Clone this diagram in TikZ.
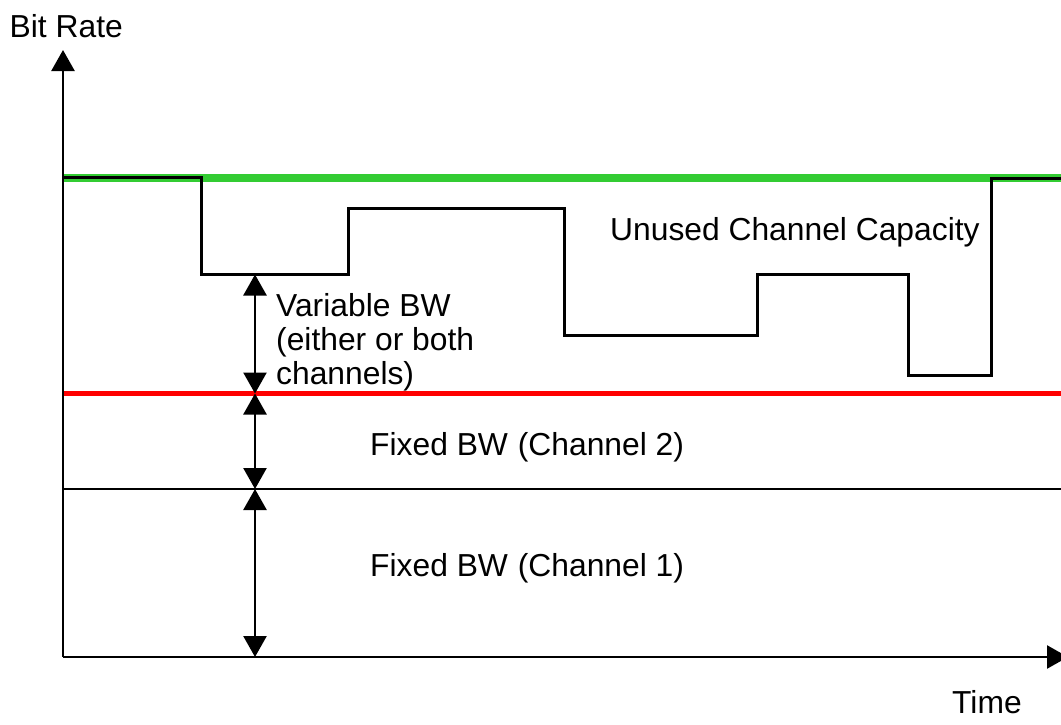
\documentclass[tikz,border=0pt]{standalone}
\usepackage{fontspec}
\setmainfont{Liberation Sans}
\usetikzlibrary{arrows.meta}
\begin{document}
\begin{tikzpicture}[x=1pt,y=-1pt,
  lbl/.style={anchor=base west, inner sep=0pt, font=\fontsize{31.8}{37}\selectfont},
  axisline/.style={line width=2.5pt, -{Triangle[width=23pt,length=21pt]}},
  dimarrow/.style={line width=2.5pt, {Triangle[width=23pt,length=21pt]}-{Triangle[width=23pt,length=21pt]}},
  capline/.style={line width=8pt, color=capgreen},
  fixline/.style={line width=5pt, color=red},
  plainline/.style={line width=2.5pt},
  rateline/.style={line width=3pt, line join=miter}]
\definecolor{capgreen}{RGB}{51,204,51}
\useasboundingbox (0,0) rectangle (1061,724);
% coordinates
\coordinate (O) at (63,657);
\coordinate (ytop) at (63,50);
\coordinate (xend) at (1068,657);
\coordinate (gL) at (63,178);
\coordinate (gR) at (1061,178);
\coordinate (rL) at (63,393.5);
\coordinate (rR) at (1061,393.5);
\coordinate (bL) at (63,489);
\coordinate (bR) at (1061,489);
\coordinate (aTop) at (255,274.5);
\coordinate (aRed) at (255,393.5);
\coordinate (aBlk) at (255,489);
\coordinate (aBot) at (255,657);
% capacity and fixed lines
\draw[capline] (gL) -- (gR);
\draw[fixline] (rL) -- (rR);
\draw[plainline] (bL) -- (bR);
% bit rate step line
\draw[rateline] (63,177) -- (201,177) -- (201,274.5) -- (348,274.5) -- (348,208)
  -- (564,208) -- (564,335) -- (757,335) -- (757,274) -- (908,274)
  -- (908,375.5) -- (991,375.5) -- (991,178) -- (1061,178);
% axes
\draw[axisline] (O) -- (ytop);
\draw[axisline] (O) -- (xend);
% dimension arrows
\draw[dimarrow] (aTop) -- (aRed);
\draw[dimarrow] (aRed) -- (aBlk);
\draw[dimarrow] (aBlk) -- (aBot);
% labels
\node[lbl] (ylab) at (9.5,37.3) {Bit Rate};
\node[lbl] (xlab) at (952,713) {Time};
\node[lbl] (unused) at (610,240) {Unused Channel Capacity};
\node[lbl] (var1) at (276,316) {Variable BW};
\node[lbl] (var2) at (276,350) {(either or both};
\node[lbl] (var3) at (276,384) {channels)};
\node[lbl] (fix2) at (370,455.3) {Fixed BW\hspace{1pt} (Channel 2)};
\node[lbl] (fix1) at (370,576) {Fixed BW\hspace{1pt} (Channel 1)};
\end{tikzpicture}
\end{document}
